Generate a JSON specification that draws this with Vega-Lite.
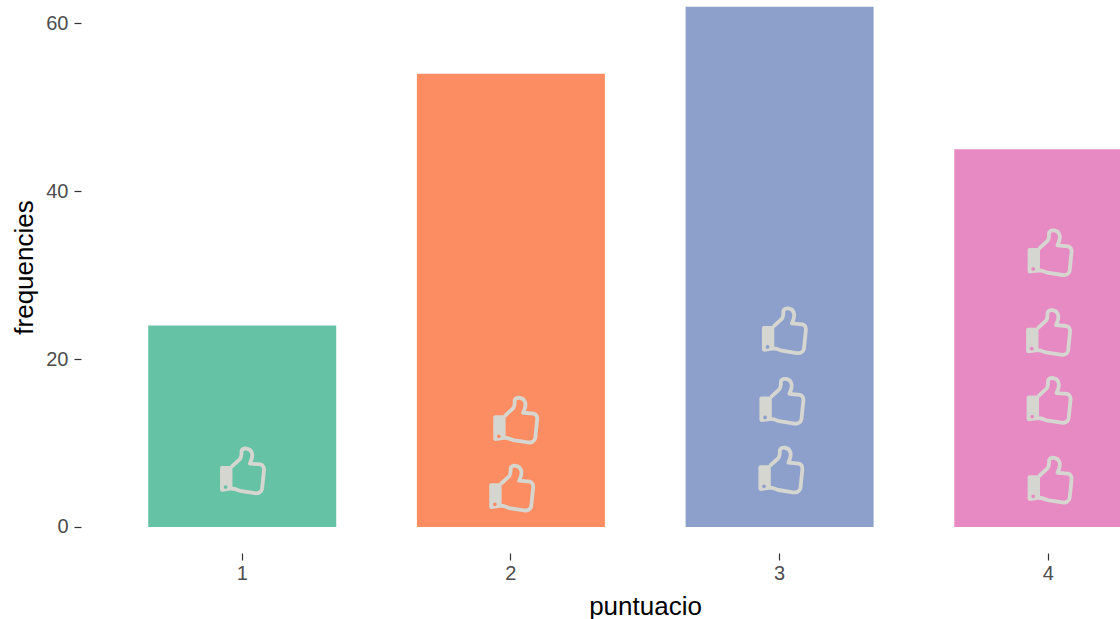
{"$schema":"https://vega.github.io/schema/vega-lite/v6.json","width":1039,"height":553,"autosize":"none","padding":{"left":81,"top":0,"right":0,"bottom":66},"background":"white","config":{"view":{"stroke":null},"font":"Liberation Sans"},"datasets":{"bars":[{"puntuacio":"1","frequencies":24},{"puntuacio":"2","frequencies":54},{"puntuacio":"3","frequencies":62},{"puntuacio":"4","frequencies":45}],"icons":[{"puntuacio":"1","valor":6.7,"desv":0},{"puntuacio":"2","valor":12.75,"desv":4.5},{"puntuacio":"2","valor":4.65,"desv":0.5},{"puntuacio":"3","valor":23.4,"desv":4.5},{"puntuacio":"3","valor":15.0,"desv":2},{"puntuacio":"3","valor":6.8,"desv":1},{"puntuacio":"4","valor":32.7,"desv":1.5},{"puntuacio":"4","valor":23.2,"desv":0},{"puntuacio":"4","valor":15.1,"desv":0.5},{"puntuacio":"4","valor":5.6,"desv":1.5}]},"encoding":{"x":{"field":"puntuacio","type":"ordinal","scale":{"type":"band","domain":["1","2","3","4"],"range":[0,1128.5],"paddingInner":0.3,"paddingOuter":0.25},"axis":{"title":"puntuacio","titleX":564,"titleY":40,"titleFont":"Liberation Sans","titleFontSize":26,"titleFontWeight":"normal","titleColor":"#000000","labelAngle":0,"labelFont":"Liberation Sans","labelFontSize":20,"labelColor":"#4d4d4d","labelPadding":3,"domain":false,"grid":false,"tickColor":"#333333","tickSize":7,"tickWidth":1.2}}},"layer":[{"data":{"name":"bars"},"mark":{"type":"bar","width":188},"encoding":{"y":{"field":"frequencies","type":"quantitative","title":"frequencies","scale":{"domain":[-3.1,62.8],"nice":false,"zero":false},"axis":{"title":"frequencies","titleFont":"Liberation Sans","titleFontSize":26,"titleFontWeight":"normal","titleColor":"#000000","titleX":-44,"titleY":267,"labelFont":"Liberation Sans","labelFontSize":20,"labelColor":"#4d4d4d","labelPadding":6,"values":[0,20,40,60],"domain":false,"grid":false,"tickColor":"#333333","tickSize":7,"tickWidth":1.2}},"y2":{"datum":0},"color":{"field":"puntuacio","type":"nominal","legend":null,"scale":{"domain":["1","2","3","4"],"range":["#66c2a5","#fc8d62","#8da0cb","#e78ac3"]}}}},{"data":{"name":"icons"},"mark":{"type":"point","filled":false,"size":2180,"stroke":"#d6d6d0","strokeWidth":3.8,"opacity":1,"strokeJoin":"round","shape":"M -0.46 -0.17 L -0.1 -0.5 C -0.03 -0.57 -0.03 -0.7 -0.03 -0.85 C 0.03 -1 0.35 -1 0.42 -0.75 C 0.47 -0.6 0.38 -0.42 0.33 -0.31 L 0.78 -0.27 C 0.9 -0.25 0.95 -0.12 0.93 0 L 0.85 0.78 C 0.82 0.93 0.68 0.98 0.54 0.96 L -0.1 0.86 C -0.25 0.8 -0.35 0.76 -0.46 0.76"},"encoding":{"y":{"field":"valor","type":"quantitative","title":"frequencies","scale":{"domain":[-3.1,62.8],"nice":false,"zero":false}},"xOffset":{"field":"desv","type":"quantitative","scale":{"domain":[-10,10],"range":[84.05,104.05]}}}},{"data":{"name":"icons"},"mark":{"type":"point","filled":true,"size":2180,"fill":"#d6d6d0","opacity":1,"stroke":null,"shape":"M -0.95 -0.12 Q -0.95 -0.2 -0.87 -0.2 L -0.42 -0.2 L -0.42 0.84 L -0.85 0.9 Q -0.95 0.9 -0.95 0.8 Z M -0.63 0.7 A 0.08 0.08 0 1 0 -0.79 0.7 A 0.08 0.08 0 1 0 -0.63 0.7 Z"},"encoding":{"y":{"field":"valor","type":"quantitative","title":"frequencies","scale":{"domain":[-3.1,62.8],"nice":false,"zero":false}},"xOffset":{"field":"desv","type":"quantitative","scale":{"domain":[-10,10],"range":[84.05,104.05]}}}}]}
